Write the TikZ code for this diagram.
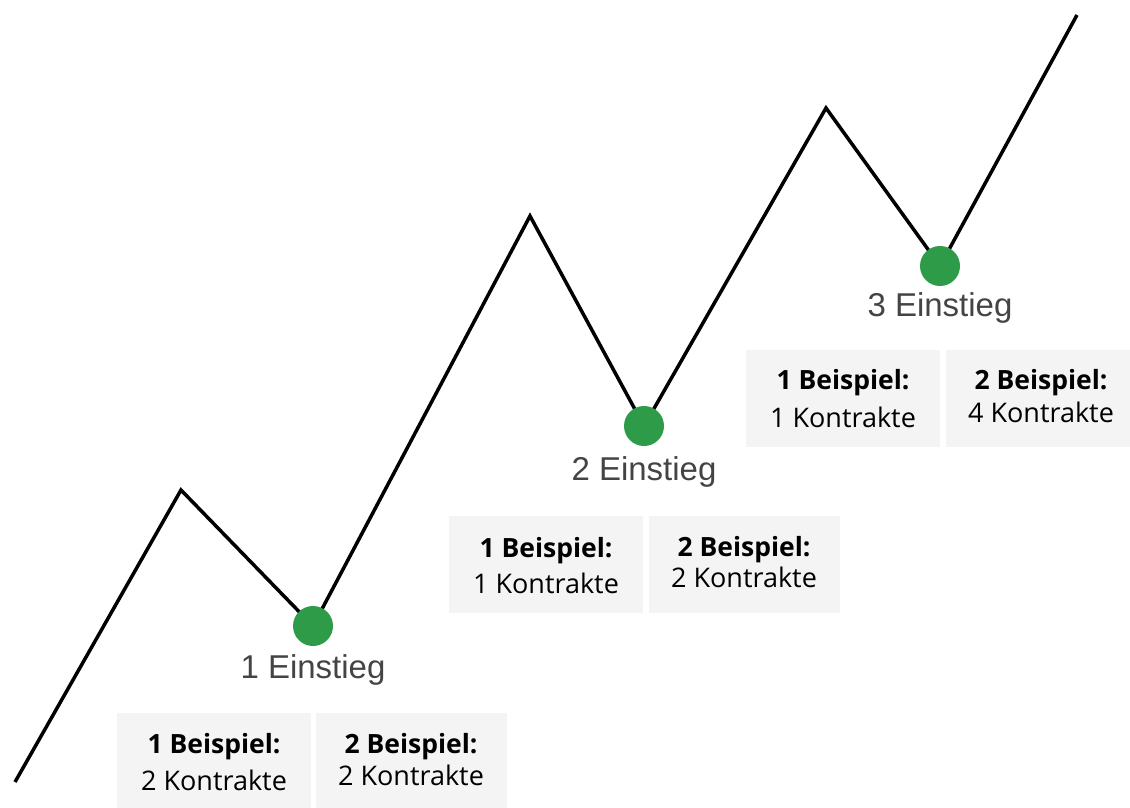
\documentclass[tikz,border=0pt]{standalone}
\usepackage{fontspec}
\setmainfont{Open Sans}
\newfontfamily\helv{Liberation Sans}
\definecolor{dotgreen}{HTML}{2E9B48}
\definecolor{boxgray}{HTML}{F4F4F4}
\definecolor{labgray}{HTML}{444444}
\begin{document}
\begin{tikzpicture}[x=1pt,y=-1pt,
  dot/.style={circle,fill=dotgreen,minimum size=40pt,inner sep=0pt},
  zig/.style={line width=3.5pt,black,line join=miter},
  infobox/.style={fill=boxgray,draw=none,inner sep=0pt,anchor=north west},
  lab/.style={font=\helv\fontsize{33}{36}\selectfont,text=labgray,anchor=base},
  bold/.style={font=\bfseries\fontsize{26.5}{30}\selectfont,anchor=base},
  norm/.style={font=\fontsize{27}{30}\selectfont,anchor=base}]
\useasboundingbox (0,0) rectangle (1130,808);
% boxes
\node[infobox,minimum width=194pt,minimum height=95pt] (b1l) at (117,713) {};
\node[infobox,minimum width=191pt,minimum height=95pt] (b1r) at (316,713) {};
\node[infobox,minimum width=194pt,minimum height=97pt] (b2l) at (449,516) {};
\node[infobox,minimum width=191pt,minimum height=97pt] (b2r) at (649,516) {};
\node[infobox,minimum width=194pt,minimum height=97pt] (b3l) at (746,350) {};
\node[infobox,minimum width=184pt,minimum height=97pt] (b3r) at (946,350) {};
% line
\coordinate (s) at (15,782);
\coordinate (p1) at (181,490);
\coordinate (t1) at (313,626);
\coordinate (p2) at (530,216);
\coordinate (t2) at (644,426);
\coordinate (p3) at (826,108);
\coordinate (t3) at (940,266);
\coordinate (e) at (1077,15);
\draw[zig] (s) -- (p1) -- (t1) -- (p2) -- (t2) -- (p3) -- (t3) -- (e);
\node[dot] (d1) at (t1) {};
\node[dot] (d2) at (t2) {};
\node[dot] (d3) at (t3) {};
% labels
\node[lab] (l1) at (313,678) {1 Einstieg};
\node[lab] (l2) at (644,480) {2 Einstieg};
\node[lab] (l3) at (940,316) {3 Einstieg};
% box texts
\node[bold] (t1a) at (214,753) {1 Beispiel:};
\node[norm] (t1b) at (214,790) {2 Kontrakte};
\node[bold] (t1c) at (411,753) {2 Beispiel:};
\node[norm] (t1d) at (411,785) {2 Kontrakte};
\node[bold] (t2a) at (546,557) {1 Beispiel:};
\node[norm] (t2b) at (546,593) {1 Kontrakte};
\node[bold] (t2c) at (744,556) {2 Beispiel:};
\node[norm] (t2d) at (744,587) {2 Kontrakte};
\node[bold] (t3a) at (843,389) {1 Beispiel:};
\node[norm] (t3b) at (843,427) {1 Kontrakte};
\node[bold] (t3c) at (1041,389) {2 Beispiel:};
\node[norm] (t3d) at (1041,422) {4 Kontrakte};
\end{tikzpicture}
\end{document}
